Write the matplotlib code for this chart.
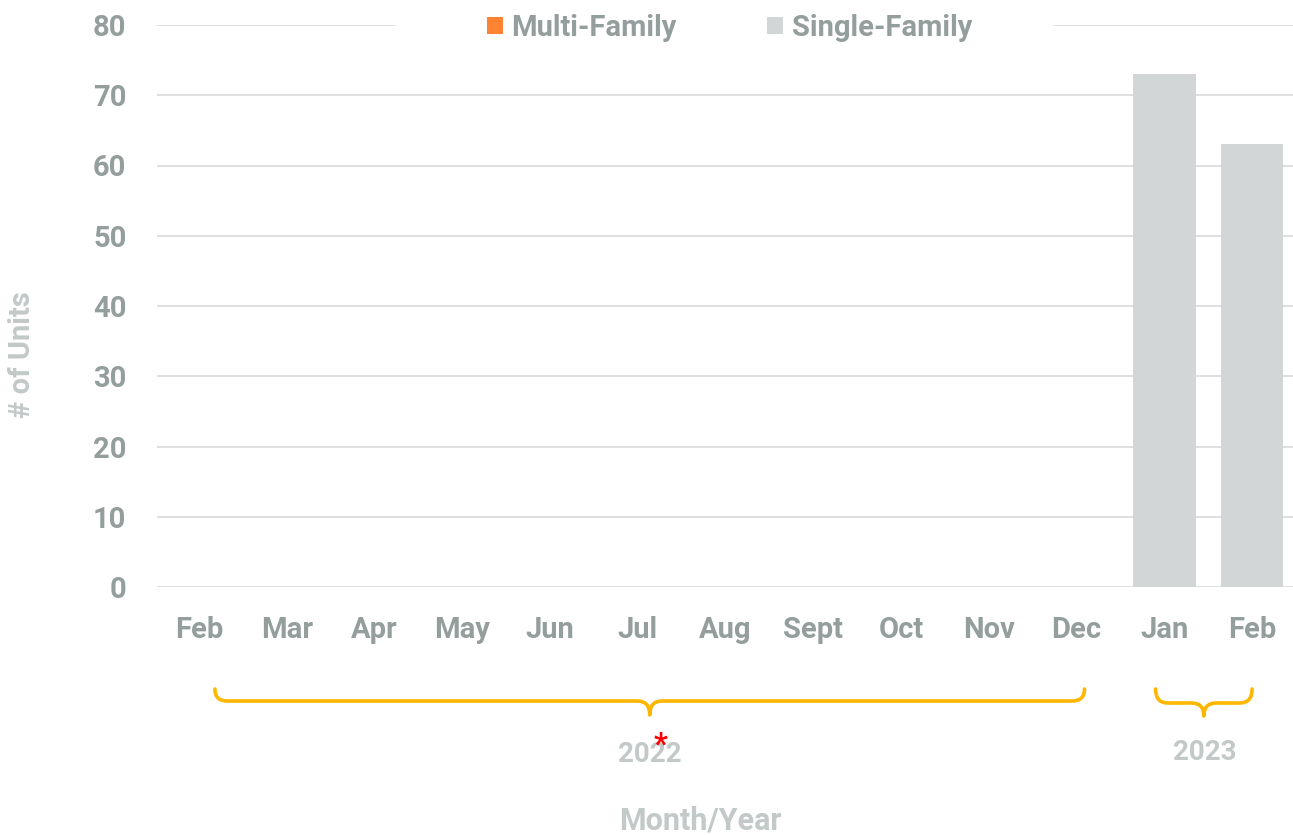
import matplotlib
matplotlib.use("Agg")
import matplotlib.pyplot as plt
import matplotlib.transforms as mtransforms
from matplotlib.patches import Patch, PathPatch, Rectangle
from matplotlib.path import Path

# data
months = ["Feb", "Mar", "Apr", "May", "Jun", "Jul", "Aug", "Sept", "Oct", "Nov", "Dec", "Jan", "Feb"]
multi_family = [0, 0, 0, 0, 0, 0, 0, 0, 0, 0, 0, 0, 0]
single_family = [0, 0, 0, 0, 0, 0, 0, 0, 0, 0, 0, 73, 63]
yticks = [0, 10, 20, 30, 40, 50, 60, 70, 80]

plt.rcParams['font.family'] = ['Roboto', 'DejaVu Sans']
plt.rcParams['font.weight'] = 'bold'

tick_col = "#939e9d"
label_col = "#c3c9c8"
orange = "#ff8330"
grey_bar = "#d3d6d6"
brace_col = "#ffb600"

fig = plt.figure(figsize=(12.93, 8.35), dpi=100)
ax = fig.add_axes([157/1293, 1 - 587/835, 1 - 157/1293, (587 - 25)/835])

x = range(len(months))
ax.bar(x, multi_family, width=0.71, color=orange, zorder=3)
ax.bar(x, single_family, width=0.71, bottom=multi_family, color=grey_bar, zorder=3)

ax.set_xlim(-0.48, 12.466)
ax.set_ylim(0, 80)
ax.set_yticks(yticks)
ax.set_xticks(list(x))
ax.set_xticklabels(months)
ax.tick_params(axis='both', length=0, labelsize=21, labelcolor=tick_col)
ax.tick_params(axis='y', pad=22)
ax.tick_params(axis='x', pad=21)
ax.grid(axis='y', color="#d9d9d9", linewidth=1.2, zorder=0)
ax.set_axisbelow(True)
for s in ax.spines.values():
    s.set_visible(False)

# white strip so the top gridline breaks around the legend
ax.add_patch(Rectangle((0.2095, 0.97), 0.5805, 0.06, transform=ax.transAxes,
                       facecolor="white", edgecolor="none", clip_on=False, zorder=4))

handles = [Patch(facecolor=orange, label="Multi-Family"),
           Patch(facecolor=grey_bar, label="Single-Family")]
leg = ax.legend(handles=handles, ncol=2, loc="center",
                bbox_to_anchor=(0.504, 0.9947), frameon=False,
                fontsize=21, handlelength=0.55, handleheight=0.55,
                handletextpad=0.3, columnspacing=3.1, borderpad=0, borderaxespad=0)
for t in leg.get_texts():
    t.set_color(tick_col)
leg.set_zorder(5)

# year braces under the month labels
trans = mtransforms.blended_transform_factory(ax.transData, fig.transFigure)


def brace(x0, x1, ytop, ymid, ytip, r=0.14):
    xc = (x0 + x1) / 2
    verts = [(x0, ytop), (x0, ymid), (x0 + r, ymid),
             (xc - r, ymid), (xc, ymid), (xc, ytip),
             (xc, ymid), (xc + r, ymid),
             (x1 - r, ymid), (x1, ymid), (x1, ytop)]
    codes = [Path.MOVETO, Path.CURVE3, Path.CURVE3,
             Path.LINETO, Path.CURVE3, Path.CURVE3,
             Path.CURVE3, Path.CURVE3,
             Path.LINETO, Path.CURVE3, Path.CURVE3]
    p = PathPatch(Path(verts, codes), fill=False, edgecolor=brace_col,
                  linewidth=2.6, capstyle='round', joinstyle='round',
                  transform=trans, clip_on=False)
    fig.add_artist(p)


brace(0.18, 10.09, 1 - 689/835, 1 - 701/835, 1 - 715/835)
brace(10.9, 12.0, 1 - 689/835, 1 - 703/835, 1 - 716/835)

fig.text(650/1293, 1 - 755/835, "2022", color=label_col, fontsize=20, ha='center', va='center')
fig.text(661/1293, 1 - 744/835, "*", color="red", fontsize=22, ha='center', va='center')
fig.text(1205/1293, 1 - 752/835, "2023", color=label_col, fontsize=20, ha='center', va='center')
fig.text(700/1293, 1 - 820/835, "Month/Year", color=label_col, fontsize=22, ha='center', va='center')
fig.text(22/1293, 1 - 355/835, "# of Units", color=label_col, fontsize=21, ha='center', va='center',
         rotation=90)

fig.savefig("out.png", dpi=100)
